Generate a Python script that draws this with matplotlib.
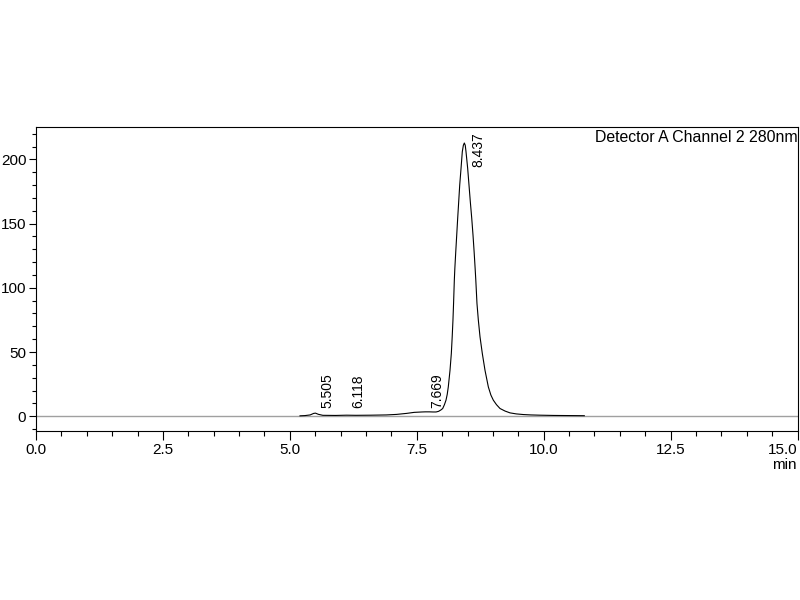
import matplotlib
matplotlib.use("Agg")
import matplotlib.pyplot as plt
from matplotlib.ticker import MultipleLocator, FormatStrFormatter

plt.rcParams['font.family'] = ['Liberation Sans', 'DejaVu Sans']

# chromatogram trace (min, mAU)
time = [5.20, 5.30, 5.40, 5.47, 5.505, 5.56, 5.65, 5.90, 6.118, 6.30, 6.60, 6.90,
        7.10, 7.30, 7.45, 7.60, 7.669, 7.75, 7.82, 7.88, 7.93, 7.98, 8.011, 8.045,
        8.076, 8.10, 8.121, 8.155, 8.181, 8.198, 8.213, 8.225, 8.240, 8.250, 8.268,
        8.287, 8.306, 8.326, 8.346, 8.372, 8.397, 8.418, 8.437, 8.455, 8.470, 8.503,
        8.529, 8.555, 8.583, 8.608, 8.630, 8.650, 8.663, 8.686, 8.713, 8.746, 8.791,
        8.844, 8.910, 8.96, 9.008, 9.07, 9.140, 9.24, 9.337, 9.46, 9.599, 9.75,
        9.928, 10.20, 10.50, 10.80]
signal = [0.3, 0.5, 1.0, 2.2, 2.4, 1.5, 0.7, 0.6, 0.8, 0.7, 0.8, 1.0,
          1.4, 2.2, 3.0, 3.3, 3.4, 3.4, 3.3, 3.3, 3.8, 5.0, 6.0, 9.0,
          12.5, 17.0, 22.8, 35.8, 48.9, 61.8, 74.8, 87.8, 106.0, 115.0, 128.0,
          141.0, 154.1, 167.0, 180.0, 193.0, 206.0, 211.0, 212.8, 211.0, 206.0, 193.0,
          180.0, 167.0, 154.1, 141.0, 128.0, 115.0, 106.0, 87.8, 74.8, 61.8, 48.9,
          35.8, 22.8, 16.5, 12.5, 9.0, 6.0, 4.0, 2.6, 1.8, 1.3, 1.0,
          0.8, 0.6, 0.5, 0.4]

peak_times = [5.505, 6.118, 7.669, 8.437]
peak_labels = ["5.505", "6.118", "7.669", "8.437"]
peak_heights = [2.4, 0.8, 3.4, 212.8]

title = "Detector A Channel 2 280nm"

fig = plt.figure(figsize=(8, 6), dpi=100)
ax = fig.add_axes([0.045, 0.2817, 0.9519, 0.5061])

ax.axhline(0, color='#a0a0a0', lw=1.0, zorder=1)
ax.plot(time, signal, color='black', lw=0.8, zorder=2)

ax.set_xlim(0, 15)
ax.set_ylim(-11.5, 225)

ax.xaxis.set_major_locator(MultipleLocator(2.5))
ax.xaxis.set_minor_locator(MultipleLocator(0.5))
ax.yaxis.set_major_locator(MultipleLocator(50))
ax.yaxis.set_minor_locator(MultipleLocator(10))
ax.xaxis.set_major_formatter(FormatStrFormatter('%.1f'))

ax.tick_params(axis='x', which='major', length=6.5, width=0.8, pad=2, labelsize=11, color='black')
ax.tick_params(axis='x', which='minor', length=3.6, width=0.8)
ax.tick_params(axis='y', which='major', length=5, width=0.8, pad=2, labelsize=11)
ax.tick_params(axis='y', which='minor', length=3, width=0.8)
for s in ax.spines.values():
    s.set_linewidth(0.8)

for t, lab, h in zip(peak_times, peak_labels, peak_heights):
    if h > 100:
        ax.annotate(lab, xy=(t, h), xytext=(14, -24), textcoords='offset pixels',
                    rotation=90, ha='center', va='bottom', fontsize=10)
    else:
        ax.annotate(lab, xy=(t, 0), xytext=(12, 8), textcoords='offset pixels',
                    rotation=90, ha='center', va='bottom', fontsize=10)

ax.annotate(title, xy=(1.0, 1.0), xycoords='axes fraction', xytext=(0, -3),
            textcoords='offset pixels', ha='right', va='top', fontsize=11.4)
fig.text(797 / 800, 1 - 465 / 600, "min", ha='right', va='center', fontsize=11)

fig.canvas.draw()
ticks = ax.xaxis.get_major_ticks()
locs = ax.xaxis.get_majorticklocs()
for tk, loc in zip(ticks, locs):
    if abs(loc - 15.0) < 1e-6:
        tk.label1.set_horizontalalignment('right')

fig.savefig("out.png", dpi=100)
